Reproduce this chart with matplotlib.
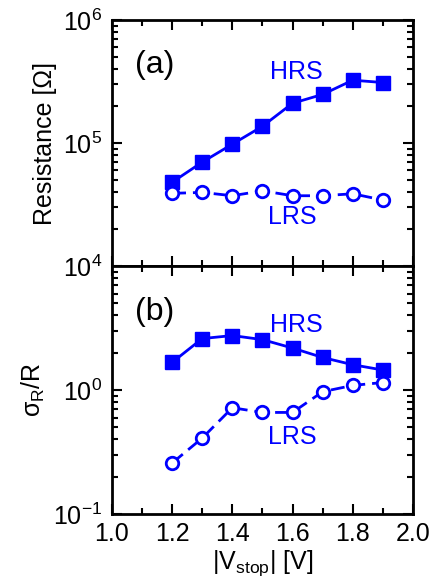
import matplotlib
matplotlib.use("Agg")
import matplotlib.pyplot as plt
from matplotlib.ticker import LogLocator, MultipleLocator, NullFormatter

plt.rcParams['font.family'] = ['Liberation Sans', 'DejaVu Sans']
plt.rcParams['mathtext.fontset'] = 'custom'
plt.rcParams['mathtext.rm'] = 'Liberation Sans'
plt.rcParams['mathtext.it'] = 'Liberation Sans'

v_stop = [1.2, 1.3, 1.4, 1.5, 1.6, 1.7, 1.8, 1.9]
r_hrs = [48e3, 70e3, 98e3, 137e3, 211e3, 249e3, 325e3, 311e3]
r_lrs = [39e3, 39.7e3, 37.3e3, 40.9e3, 37.3e3, 37.3e3, 38.7e3, 34.4e3]
s_hrs = [1.67, 2.6, 2.75, 2.55, 2.18, 1.83, 1.6, 1.45]
s_lrs = [0.258, 0.41, 0.72, 0.66, 0.66, 0.97, 1.09, 1.15]

blue = '#0000ff'
fig = plt.figure(figsize=(4.32, 5.77), dpi=100)
L, R = 0.259, 0.956
ax1 = fig.add_axes([L, 0.539, R - L, 0.965 - 0.539])
ax2 = fig.add_axes([L, 0.109, R - L, 0.539 - 0.109])

for ax in (ax1, ax2):
    ax.set_yscale('log')
    ax.set_xlim(1.0, 2.0)
    ax.xaxis.set_major_locator(MultipleLocator(0.2))
    ax.xaxis.set_minor_locator(MultipleLocator(0.1))
    ax.yaxis.set_major_locator(LogLocator(base=10))
    ax.yaxis.set_minor_locator(LogLocator(base=10, subs=range(2, 10)))
    ax.yaxis.set_minor_formatter(NullFormatter())
    ax.tick_params(which='both', direction='in', top=True, right=True, width=1.5, labelsize=18)
    ax.tick_params(which='major', length=7)
    ax.tick_params(which='minor', length=4)
    ax.tick_params(axis='y', pad=7)
    for s in ax.spines.values():
        s.set_linewidth(2)

ax1.plot(v_stop, r_hrs, '-s', color=blue, lw=2, ms=10, mfc=blue, mec=blue)
ax1.plot(v_stop, r_lrs, '--o', color=blue, lw=2, ms=9, mfc='white', mec=blue, mew=2, dashes=(5, 2.5))
ax1.set_ylim(1e4, 1e6)
ax1.set_yticks([1e4, 1e5, 1e6])
ax1.set_yticklabels([r'$10^4$', r'$10^5$', r'$10^6$'])
ax1.tick_params(labelbottom=False)
ax1.set_ylabel('Resistance [Ω]', fontsize=18, labelpad=4)
ax1.text(0.076, 0.817, '(a)', transform=ax1.transAxes, fontsize=23, va='center', ha='left')
ax1.text(0.525, 0.789, 'HRS', transform=ax1.transAxes, fontsize=18, color=blue, va='center', ha='left')
ax1.text(0.518, 0.2, 'LRS', transform=ax1.transAxes, fontsize=18, color=blue, va='center', ha='left')

ax2.plot(v_stop, s_hrs, '-s', color=blue, lw=2, ms=10, mfc=blue, mec=blue)
ax2.plot(v_stop, s_lrs, '--o', color=blue, lw=2, ms=9, mfc='white', mec=blue, mew=2, dashes=(5, 2.5))
ax2.set_ylim(0.1, 10)
ax2.set_yticks([0.1, 1])
ax2.set_yticklabels([r'$10^{-1}$', r'$10^0$'])
ax2.set_xticks([1.0, 1.2, 1.4, 1.6, 1.8, 2.0])
ax2.set_xticklabels(['1.0', '1.2', '1.4', '1.6', '1.8', '2.0'])
ax2.tick_params(axis='x', pad=6)
ax2.set_ylabel(r'$\sigma_R$/R', fontsize=18, labelpad=4)
ax2.set_xlabel(r'|V$_{\rm stop}$| [V]', fontsize=18, labelpad=1)
ax2.text(0.076, 0.816, '(b)', transform=ax2.transAxes, fontsize=23, va='center', ha='left')
ax2.text(0.525, 0.762, 'HRS', transform=ax2.transAxes, fontsize=18, color=blue, va='center', ha='left')
ax2.text(0.518, 0.312, 'LRS', transform=ax2.transAxes, fontsize=18, color=blue, va='center', ha='left')

fig.savefig('out.png', dpi=100)
